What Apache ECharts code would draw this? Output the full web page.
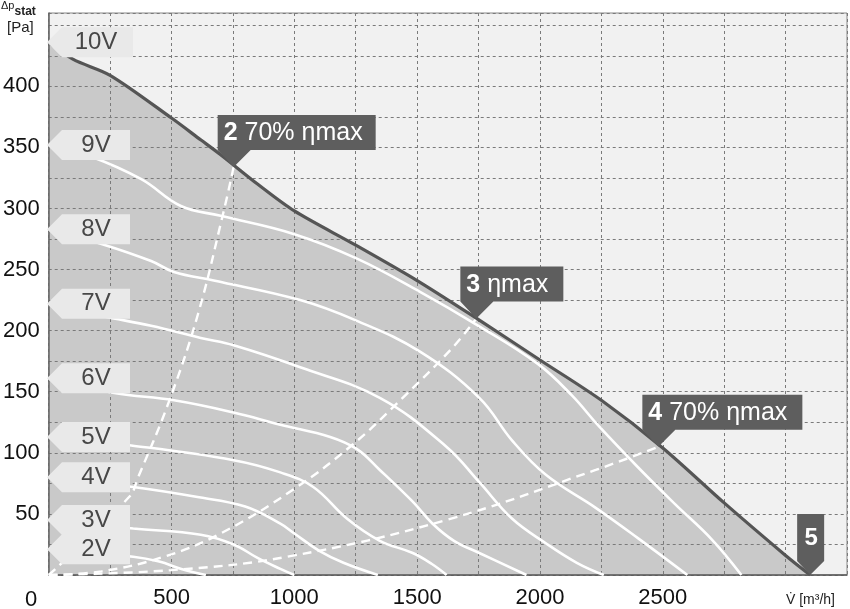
<!DOCTYPE html>
<html>
<head>
<meta charset="utf-8">
<script src="https://cdn.jsdelivr.net/npm/echarts@6/dist/echarts.min.js"></script>
<style>
  html, body { margin: 0; background: #fff; }
  #chart { width: 850px; height: 609px; }
</style>
</head>
<body>
<div id="chart"></div>
<script>
  // fan curves, [airflow m3/h, static pressure Pa]
  const curve10V = [[0,436],[100,422],[250,409],[500,374],[620,356],[700,344],[850,320],[1000,298],[1250,270],[1500,241],[1750,209],[2000,176],[2250,143],[2500,104],[2750,59],[3000,16],[3100,0]];
  const curve9V = [[0,352],[166,343],[377,324],[538,302],[700,294],[1000,279],[1255,259],[1510,232],[1741,205],[1990,173],[2130,147],[2239,122],[2400,88],[2550,58],[2700,29],[2820,0]];
  const curve8V = [[0,283],[215,271],[417,257],[510,248],[672,241],[1024,225],[1255,208],[1510,183],[1753,145],[1887,110],[2024,82],[2227,55],[2400,30],[2600,0]];
  const curve7V = [[0,222],[215,212],[417,204],[619,194],[753,188],[1024,170],[1348,145],[1619,105],[1753,76],[1887,46],[2024,26],[2150,10],[2260,0]];
  const curve6V = [[0,161],[267,149],[510,143],[753,133],[943,123],[1146,113],[1255,103],[1348,86],[1482,60],[1563,42],[1650,28],[1753,18],[1945,0]];
  const curve5V = [[0,113],[336,106],[753,94],[943,84],[1077,72],[1215,46],[1348,28],[1482,18],[1560,9],[1620,0]];
  const curve4V = [[0,80],[344,72],[600,64],[800,56],[943,42],[1000,34],[1100,20],[1200,10],[1340,0]];
  const curve3V = [[0,45],[344,38],[619,33],[753,25],[850,14],[943,5],[1000,0]];
  const curve2V = [[0,21],[344,15],[450,11],[540,5],[640,0]];

  // system curves (dashed)
  const sys2 = [[0,0],[328,64],[364,80],[486,140],[607,213],[708,294],[753,334]];
  const sys3 = [[0,0],[215,3],[470,15],[700,34],[996,70],[1239,107],[1441,145],[1644,186],[1741,210]];
  const sys4 = [[0,0],[500,4],[972,15],[1619,45],[2227,86],[2482,105]];

  const voltNames = ['9V','8V','7V','6V','5V','4V','3V','2V'];
  const voltCurves = [curve9V, curve8V, curve7V, curve6V, curve5V, curve4V, curve3V, curve2V];

  // callouts: anchor point, bold number, rest of text
  const callouts = [
    { at: [753,334], num: '2', text: ' 70% ηmax' },
    { at: [1741,210], num: '3', text: ' ηmax' },
    { at: [2482,105], num: '4', text: ' 70% ηmax' }
  ];
  const endPoint = [3100,0];

  const FONT = 'Liberation Sans, Arial, sans-serif';
  const chart = echarts.init(document.getElementById('chart'));

  const series = [{
    type: 'line', data: curve10V, smooth: 0.3, symbol: 'none', z: 1, silent: true,
    lineStyle: { width: 0 },
    areaStyle: { color: '#c9c9c9', opacity: 1 }
  }];
  voltCurves.forEach((c, i) => {
    series.push({
      name: voltNames[i], type: 'line', data: c, smooth: 0.4, symbol: 'none', z: 5,
      lineStyle: { color: '#ffffff', width: 2.6 }
    });
  });
  [sys2, sys3, sys4].forEach(c => {
    series.push({
      type: 'line', data: c, smooth: 0.4, symbol: 'none', z: 5,
      lineStyle: { color: '#ffffff', width: 2.4, type: [9, 6] }
    });
  });
  series.push({
    name: '10V', type: 'line', data: curve10V, smooth: 0.3, symbol: 'none', z: 6,
    lineStyle: { color: '#555555', width: 3.2 }
  });

  chart.setOption({
    animation: false,
    grid: { left: 47, top: 13, right: 0, bottom: 30, show: true, backgroundColor: '#f1f1f1', borderColor: '#888', borderWidth: 1 },
    xAxis: {
      type: 'value', min: 0, max: 3250, interval: 250, z: 3,
      axisLine: { show: true, lineStyle: { color: '#555', width: 1.5 } },
      axisTick: { show: false },
      axisLabel: {
        margin: 12, fontSize: 22, color: '#111', fontFamily: FONT,
        formatter: v => (v % 500 === 0 && v > 0 && v <= 2500) ? String(v) : ''
      },
      splitLine: { show: true, lineStyle: { color: '#7a7a7a', type: [3, 3], width: 1 } }
    },
    yAxis: {
      type: 'value', min: 0, max: 460, interval: 25, z: 3,
      axisLine: { show: true, lineStyle: { color: '#666', width: 1.5 } },
      axisTick: { show: false },
      axisLabel: {
        margin: 9, fontSize: 22, color: '#111', fontFamily: FONT,
        formatter: v => (v % 50 === 0 && v > 0 && v <= 400) ? String(v) : ''
      },
      splitLine: { show: true, lineStyle: { color: '#7a7a7a', type: [3, 3], width: 1 } }
    },
    series: series
  });

  // graphic overlays: voltage tags, callouts, axis titles
  const g = [];
  const allNames = ['10V'].concat(voltNames);
  const allCurves = [curve10V].concat(voltCurves);
  allCurves.forEach((c, i) => {
    const p = chart.convertToPixel({ gridIndex: 0 }, c[0]);
    const tx = 47, ty = p[1];
    const right = i === 0 ? 133 : 130;
    g.push({
      type: 'polygon', z: 20,
      shape: { points: [[tx, ty], [tx + 15, ty - 15], [right, ty - 15], [right, ty + 15], [tx + 15, ty + 15]] },
      style: { fill: '#e9e9e9' }
    });
    g.push({
      type: 'text', z: 21, x: 96, y: ty,
      style: { text: allNames[i], fill: '#474747', font: '24px ' + FONT, align: 'center', verticalAlign: 'middle' }
    });
  });

  const boxW = { '2': 158, '3': 103, '4': 160 };
  callouts.forEach(c => {
    const p = chart.convertToPixel({ gridIndex: 0 }, c.at);
    const ax = p[0], ay = p[1];
    const left = ax - 16, top = ay - 52, w = boxW[c.num], h = 35;
    g.push({
      type: 'polygon', z: 20,
      shape: { points: [[left, top], [left + w, top], [left + w, top + h], [ax + 17, top + h], [ax, ay], [left, top + h]] },
      style: { fill: '#5e5e5e' }
    });
    g.push({
      type: 'text', z: 21, x: left + 6, y: top + h / 2 + 1,
      style: {
        text: '{b|' + c.num + '}{r|' + c.text + '}', verticalAlign: 'middle',
        rich: {
          b: { fill: '#fff', font: 'bold 25px ' + FONT },
          r: { fill: '#fff', font: '25px ' + FONT }
        }
      }
    });
  });

  const e = chart.convertToPixel({ gridIndex: 0 }, endPoint);
  g.push({
    type: 'polygon', z: 20,
    shape: { points: [[e[0] - 13, e[1] - 61], [e[0] + 14, e[1] - 61], [e[0] + 14, e[1] - 14], [e[0], e[1]], [e[0] - 13, e[1] - 14]] },
    style: { fill: '#5e5e5e' }
  });
  g.push({
    type: 'text', z: 21, x: e[0] + 1, y: e[1] - 37,
    style: { text: '5', fill: '#fff', font: 'bold 24px ' + FONT, align: 'center', verticalAlign: 'middle' }
  });

  g.push({
    type: 'text', x: 1, y: 0,
    style: { text: '{a|Δp}{s|stat}\n{u|[Pa]}', rich: {
      a: { font: '11px ' + FONT, fill: '#222', verticalAlign: 'top' },
      s: { font: 'bold 12px ' + FONT, fill: '#222', padding: [6, 0, 0, 0] },
      u: { font: '15px ' + FONT, fill: '#222', padding: [2, 0, 0, 6] }
    } }
  });
  g.push({
    type: 'text', x: 31, y: 600,
    style: { text: '0', fill: '#111', font: '22px ' + FONT, align: 'center', verticalAlign: 'middle' }
  });
  g.push({
    type: 'text', x: 786, y: 600,
    style: { text: 'V\u0307 [m³/h]', fill: '#222', font: '14px ' + FONT, verticalAlign: 'middle' }
  });

  chart.setOption({ graphic: g });
</script>
</body>
</html>
